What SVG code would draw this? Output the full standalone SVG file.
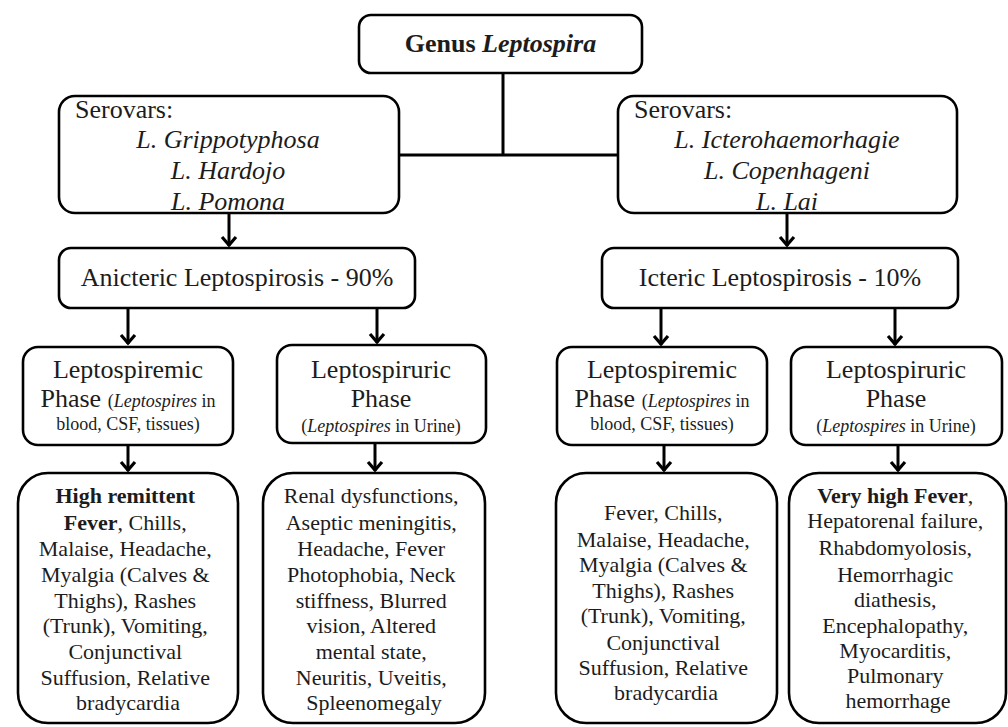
<svg xmlns="http://www.w3.org/2000/svg" width="1008" height="727" viewBox="0 0 1008 727">
<defs>
<marker id="arr" viewBox="-12 -10 14 20" markerWidth="14" markerHeight="20" refX="0" refY="0" orient="auto" markerUnits="userSpaceOnUse">
<path d="M-9,-7 L-1,0 L-9,7" fill="none" stroke="#000" stroke-width="3.2" stroke-linejoin="miter"/>
</marker>
</defs>
<style>
.box{fill:#fff;stroke:#000;stroke-width:2.6}
.t{font-family:"Liberation Serif","Times New Roman",serif;fill:#1c1c1c}
.c{text-anchor:middle}
.s26{font-size:26px}
.s18{font-size:18px}
.s22{font-size:22px}
.i{font-style:italic}
.b{font-weight:bold}
.ln{fill:none;stroke:#000;stroke-width:3}
</style>
<rect width="1008" height="727" fill="#fff"/>

<g id="connectors">
<path class="ln" d="M503,73 V155 M399,155 H618"/>
<path class="ln" d="M229,213 V246" marker-end="url(#arr)"/>
<path class="ln" d="M787,213 V246" marker-end="url(#arr)"/>
<path class="ln" d="M128,308 V344" marker-end="url(#arr)"/>
<path class="ln" d="M377,308 V343" marker-end="url(#arr)"/>
<path class="ln" d="M661,308 V345" marker-end="url(#arr)"/>
<path class="ln" d="M895,308 V345" marker-end="url(#arr)"/>
<path class="ln" d="M128,445 V471" marker-end="url(#arr)"/>
<path class="ln" d="M375,443 V471" marker-end="url(#arr)"/>
<path class="ln" d="M664,445 V471" marker-end="url(#arr)"/>
<path class="ln" d="M898,445 V471" marker-end="url(#arr)"/>
</g>

<g id="genus">
<rect class="box" x="359" y="15" width="283" height="58" rx="12"/>
<text class="t c s26 b" x="500.5" y="52">Genus <tspan class="i">Leptospira</tspan></text>
</g>

<g id="serovars-left">
<rect class="box" x="59" y="96" width="340" height="117" rx="16"/>
<text class="t s26" x="75" y="118">Serovars:</text>
<text class="t c s26 i" x="228" y="148">L. Grippotyphosa</text>
<text class="t c s26 i" x="228" y="179">L. Hardojo</text>
<text class="t c s26 i" x="228" y="210">L. Pomona</text>
</g>

<g id="serovars-right">
<rect class="box" x="618" y="96" width="339" height="117" rx="16"/>
<text class="t s26" x="634" y="118">Serovars:</text>
<text class="t c s26 i" x="787" y="148">L. Icterohaemorhagie</text>
<text class="t c s26 i" x="787" y="179">L. Copenhageni</text>
<text class="t c s26 i" x="787" y="210">L. Lai</text>
</g>

<g id="anicteric">
<rect class="box" x="59" y="248" width="356" height="60" rx="12"/>
<text class="t c s26" x="237" y="286">Anicteric Leptospirosis - 90%</text>
</g>

<g id="icteric">
<rect class="box" x="602" y="248" width="356" height="60" rx="12"/>
<text class="t c s26" x="780" y="286">Icteric Leptospirosis - 10%</text>
</g>

<g id="phase-l1">
<rect class="box" x="23" y="347" width="210" height="98" rx="15"/>
<text class="t c s26" x="128" y="378">Leptospiremic</text>
<text class="t c" x="128" y="407"><tspan class="s26">Phase </tspan><tspan class="s18">(</tspan><tspan class="s18 i">Leptospires</tspan><tspan class="s18"> in</tspan></text>
<text class="t c s18" x="128" y="430">blood, CSF, tissues)</text>
</g>

<g id="phase-l2">
<rect class="box" x="277" y="345" width="209" height="98" rx="15"/>
<text class="t c s26" x="381" y="378">Leptospiruric</text>
<text class="t c s26" x="381" y="407">Phase</text>
<text class="t c s18" x="381" y="432">(<tspan class="i">Leptospires</tspan> in Urine)</text>
</g>

<g id="phase-r1">
<rect class="box" x="557" y="347" width="210" height="98" rx="15"/>
<text class="t c s26" x="662" y="378">Leptospiremic</text>
<text class="t c" x="662" y="407"><tspan class="s26">Phase </tspan><tspan class="s18">(</tspan><tspan class="s18 i">Leptospires</tspan><tspan class="s18"> in</tspan></text>
<text class="t c s18" x="662" y="430">blood, CSF, tissues)</text>
</g>

<g id="phase-r2">
<rect class="box" x="791" y="347" width="211" height="98" rx="15"/>
<text class="t c s26" x="896" y="378">Leptospiruric</text>
<text class="t c s26" x="896" y="407">Phase</text>
<text class="t c s18" x="896" y="432">(<tspan class="i">Leptospires</tspan> in Urine)</text>
</g>

<g id="symptoms-l1">
<rect class="box" x="18" y="473" width="220" height="250" rx="30"/>
<text class="t c s22" x="128">
<tspan x="128" y="503" class="b">High remittent</tspan>
<tspan x="128" y="530"><tspan class="b">Fever</tspan>, Chills,</tspan>
<tspan x="128" y="556">Malaise, Headache,</tspan>
<tspan x="128" y="582">Myalgia (Calves &amp;</tspan>
<tspan x="128" y="608">Thighs), Rashes</tspan>
<tspan x="128" y="633">(Trunk), Vomiting,</tspan>
<tspan x="128" y="659">Conjunctival</tspan>
<tspan x="128" y="685">Suffusion, Relative</tspan>
<tspan x="128" y="710">bradycardia</tspan>
</text>
</g>

<g id="symptoms-l2">
<rect class="box" x="263" y="473" width="222" height="250" rx="30"/>
<text class="t c s22" x="374">
<tspan x="374" y="503">Renal dysfunctions,</tspan>
<tspan x="374" y="530">Aseptic meningitis,</tspan>
<tspan x="374" y="556">Headache, Fever</tspan>
<tspan x="374" y="582">Photophobia, Neck</tspan>
<tspan x="374" y="608">stiffness, Blurred</tspan>
<tspan x="374" y="633">vision, Altered</tspan>
<tspan x="374" y="659">mental state,</tspan>
<tspan x="374" y="685">Neuritis, Uveitis,</tspan>
<tspan x="374" y="710">Spleenomegaly</tspan>
</text>
</g>

<g id="symptoms-r1">
<rect class="box" x="556" y="473" width="221" height="250" rx="30"/>
<text class="t c s22" x="666">
<tspan x="666" y="520">Fever, Chills,</tspan>
<tspan x="666" y="547">Malaise, Headache,</tspan>
<tspan x="666" y="572">Myalgia (Calves &amp;</tspan>
<tspan x="666" y="598">Thighs), Rashes</tspan>
<tspan x="666" y="623">(Trunk), Vomiting,</tspan>
<tspan x="666" y="650">Conjunctival</tspan>
<tspan x="666" y="675">Suffusion, Relative</tspan>
<tspan x="666" y="700">bradycardia</tspan>
</text>
</g>

<g id="symptoms-r2">
<rect class="box" x="789" y="473" width="217" height="250" rx="30"/>
<text class="t c s22" x="898">
<tspan x="898" y="503"><tspan class="b">Very high Fever</tspan>,</tspan>
<tspan x="898" y="528">Hepatorenal failure,</tspan>
<tspan x="898" y="555">Rhabdomyolosis,</tspan>
<tspan x="898" y="582">Hemorrhagic</tspan>
<tspan x="898" y="607">diathesis,</tspan>
<tspan x="898" y="633">Encephalopathy,</tspan>
<tspan x="898" y="658">Myocarditis,</tspan>
<tspan x="898" y="683">Pulmonary</tspan>
<tspan x="898" y="708">hemorrhage</tspan>
</text>
</g>
</svg>
